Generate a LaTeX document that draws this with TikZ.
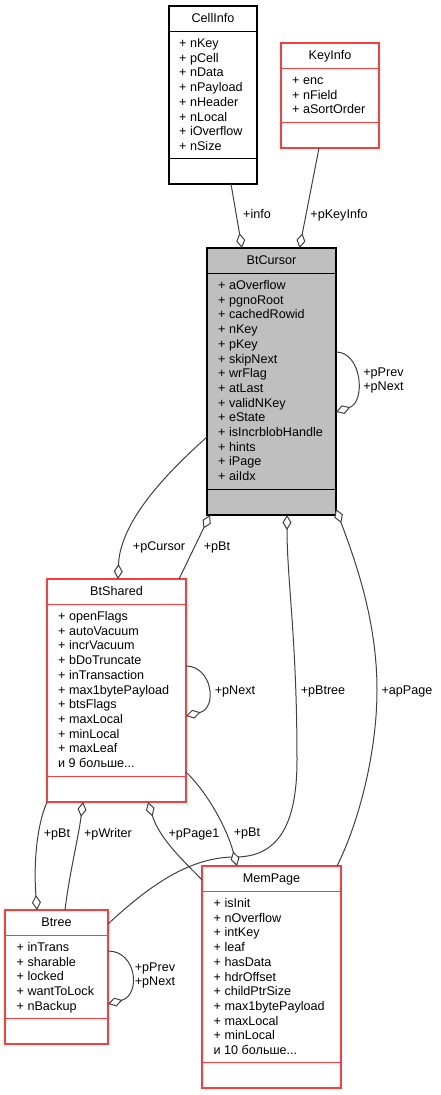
\documentclass[tikz,border=0pt]{standalone}
\usepackage{fontspec}
\setmainfont{Liberation Sans}
\usepackage{xcolor}
\usepackage{tikz}
\usetikzlibrary{arrows.meta, calc}

\definecolor{edgegray}{RGB}{64,64,64}
\definecolor{boxred}{RGB}{255,60,60}
\definecolor{cursorgray}{RGB}{191,191,191}

\tikzset{
  classbox/.style={draw, line width=1.3pt, inner sep=0pt, outer sep=0pt, anchor=north west},
  classtitle/.style={anchor=base, inner sep=0pt, font=\fontsize{12.6}{14.7}\selectfont},
  member/.style={anchor=base west, inner sep=0pt, font=\fontsize{12.6}{14.7}\selectfont},
  rolelabel/.style={anchor=base, inner sep=0pt, align=center, font=\fontsize{12.6}{14.7}\selectfont},
  assoc/.style={draw=edgegray, line width=1pt, -{Diamond[fill=white, length=15pt, width=9pt]}},
}

\begin{document}
\begin{tikzpicture}[x=1pt, y=-1pt]
\useasboundingbox (0,0) rectangle (441,1095);
\foreach \nm/\x/\y/\w/\h/\col/\bg in {cellinfo/169/6/88/178/black/white, keyinfo/281/43/98/105/boxred/white,
    btcursor/207/248/129/267/black/cursorgray, btshared/47/579/139/223/boxred/white,
    btree/5/910/103/134/boxred/white, mempage/202/866/139/222/boxred/white} {
  \node[classbox, draw=\col, fill=\bg, minimum width=\w pt, minimum height=\h pt] (\nm) at (\x,\y) {};
  \draw[\col, line width=1.3pt] ([yshift=-25.5pt]\nm.north west) -- ([yshift=-25.5pt]\nm.north east)
    ([yshift=25.5pt]\nm.south west) -- ([yshift=25.5pt]\nm.south east);
}
\foreach \nm/\t in {cellinfo/CellInfo, keyinfo/KeyInfo, btcursor/BtCursor, btshared/BtShared, btree/Btree, mempage/MemPage}
  \node[classtitle] (\nm-title) at ([yshift=-16.2pt]\nm.north) {\t};

\foreach \m [count=\i from 0] in {nKey,pCell,nData,nPayload,nHeader,nLocal,iOverflow,nSize}
  \node[member] (cellinfo-\i) at ([xshift=10pt, yshift={-(41.5+14.7*\i)}]cellinfo.north west) {+ \m};
\foreach \m [count=\i from 0] in {enc,nField,aSortOrder}
  \node[member] (keyinfo-\i) at ([xshift=11pt, yshift={-(41.5+14.7*\i)}]keyinfo.north west) {+ \m};
\foreach \m [count=\i from 0] in {aOverflow,pgnoRoot,cachedRowid,nKey,pKey,skipNext,wrFlag,atLast,validNKey,eState,isIncrblobHandle,hints,iPage,aiIdx}
  \node[member] (btcursor-\i) at ([xshift=11pt, yshift={-(41.5+14.7*\i)}]btcursor.north west) {+ \m};
\foreach \m [count=\i from 0] in {openFlags,autoVacuum,incrVacuum,bDoTruncate,inTransaction,max1bytePayload,btsFlags,maxLocal,minLocal,maxLeaf}
  \node[member] (btshared-\i) at ([xshift=11pt, yshift={-(41.5+14.7*\i)}]btshared.north west) {+ \m};
\node[member] (btshared-more) at ([xshift=11pt, yshift=-188.5pt]btshared.north west) {и 9 больше...};
\foreach \m [count=\i from 0] in {inTrans,sharable,locked,wantToLock,nBackup}
  \node[member] (btree-\i) at ([xshift=11.5pt, yshift={-(41.5+14.7*\i)}]btree.north west) {+ \m};
\foreach \m [count=\i from 0] in {isInit,nOverflow,intKey,leaf,hasData,hdrOffset,childPtrSize,max1bytePayload,maxLocal,minLocal}
  \node[member] (mempage-\i) at ([xshift=11.5pt, yshift={-(41.5+14.7*\i)}]mempage.north west) {+ \m};
\node[member] (mempage-more) at ([xshift=11.5pt, yshift=-188pt]mempage.north west) {и 10 больше...};

\draw[assoc] ([xshift=62pt]cellinfo.south west) -- ([xshift=35pt]btcursor.north west);
\draw[assoc] ([xshift=38pt]keyinfo.south west) -- ([xshift=92.5pt]btcursor.north west);
\draw[assoc] ([yshift=-104pt]btcursor.north east) .. controls +(26,0) and +(30,-10) .. ([yshift=-164pt]btcursor.north east);
\draw[assoc] ([yshift=-189pt]btcursor.north west) .. controls +(-37,33) and +(2,-59) .. ([xshift=71pt]btshared.north west);
\draw[assoc] ([xshift=132pt]btshared.north west) -- ([xshift=3pt]btcursor.south west);
\draw[assoc] ([yshift=-14pt]btree.north east) .. controls +(42,-39) and +(-45,0) .. (235,857)
  .. controls +(40,0) and +(0,70) .. (297,760) .. controls +(0,-120) and +(0,65) .. ([xshift=80pt]btcursor.south west);
\draw[assoc] ([xshift=135pt]mempage.north west) .. controls +(23,-46) and +(0,60) .. (377,690)
  .. controls +(0,-70) and +(19,51) .. ([yshift=6pt]btcursor.south east);
\draw[assoc] ([yshift=-87pt]btshared.north east) .. controls +(26,0) and +(32,-8) .. ([yshift=-137pt]btshared.north east);
\draw[assoc] ([yshift=30pt]btshared.south east) .. controls +(19,18) and +(-11,-41) .. ([xshift=35pt]mempage.north west);
\draw[assoc] ([yshift=-14pt]mempage.north west) .. controls +(-17,-18) and +(12,38) .. ([xshift=101pt]btshared.south west);
\draw[assoc] (btshared.south west) .. controls +(-12,28) and +(-3,-39) .. ([xshift=32pt]btree.north west);
\draw[assoc] ([xshift=60pt]btree.north west) .. controls +(5,-40) and +(-5,38) .. ([xshift=36pt]btshared.south west);
\draw[assoc] ([yshift=-41pt]btree.north east) .. controls +(29,0) and +(33,-9) .. ([yshift=-94pt]btree.north east);

\node[rolelabel] (lbl-info) at (257,218.5) {+info};
\node[rolelabel] (lbl-pkeyinfo) at (339,218.5) {+pKeyInfo};
\node[rolelabel, anchor=center] (lbl-cursorloop) at (383.5,380.5) {+pPrev\\+pNext};
\node[rolelabel] (lbl-pcursor) at (159,550.5) {+pCursor};
\node[rolelabel] (lbl-pbt1) at (217,550.5) {+pBt};
\node[rolelabel] (lbl-sharednext) at (235,694.5) {+pNext};
\node[rolelabel] (lbl-pbtree) at (323,694.5) {+pBtree};
\node[rolelabel] (lbl-appage) at (407,694.5) {+apPage};
\node[rolelabel] (lbl-pbt2) at (57,837.5) {+pBt};
\node[rolelabel] (lbl-pwriter) at (108,837.5) {+pWriter};
\node[rolelabel] (lbl-ppage1) at (194,837.5) {+pPage1};
\node[rolelabel] (lbl-pbt3) at (247,836.5) {+pBt};
\node[rolelabel, anchor=center] (lbl-btreeloop) at (155,975.5) {+pPrev\\+pNext};
\end{tikzpicture}
\end{document}
